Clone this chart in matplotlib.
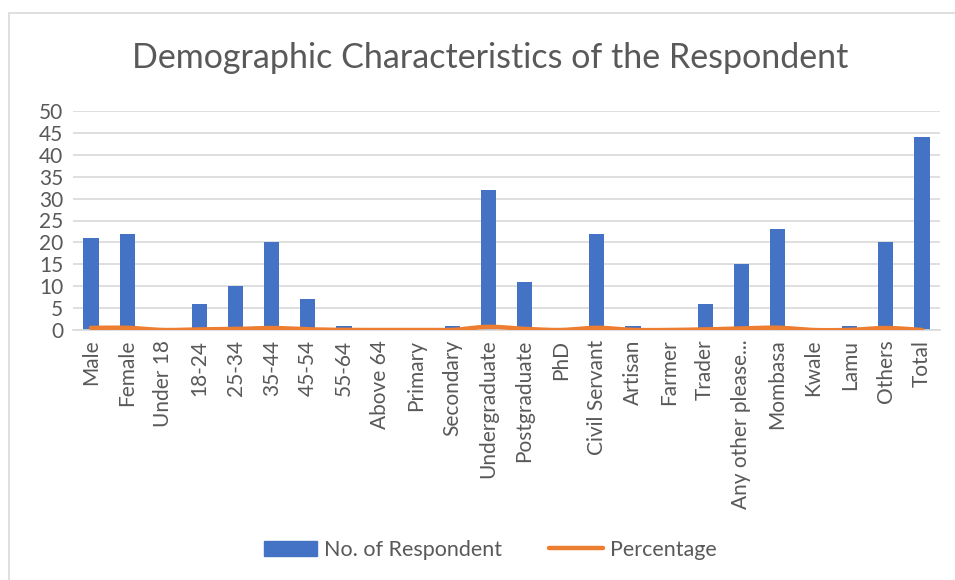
import numpy as np
import matplotlib
matplotlib.use("Agg")
import matplotlib.pyplot as plt
from matplotlib.patches import Rectangle
from matplotlib.lines import Line2D

plt.rcParams['font.family'] = ['Lato', 'DejaVu Sans']

categories = ["Male", "Female", "Under 18", "18-24", "25-34", "35-44", "45-54",
              "55-64", "Above 64", "Primary", "Secondary", "Undergraduate",
              "Postgraduate", "PhD", "Civil Servant", "Artisan", "Farmer",
              "Trader", "Any other please...", "Mombasa", "Kwale", "Lamu",
              "Others", "Total"]
respondents = [21, 22, 0, 6, 10, 20, 7, 1, 0, 0, 1, 32, 11, 0, 22, 1, 0, 6,
               15, 23, 0, 1, 20, 44]
percentage = [0.477, 0.5, 0.0, 0.136, 0.227, 0.455, 0.159, 0.023, 0.0, 0.0,
              0.023, 0.727, 0.25, 0.0, 0.5, 0.023, 0.0, 0.136, 0.341, 0.523,
              0.0, 0.023, 0.455, 0.0]
y_ticks = [0, 5, 10, 15, 20, 25, 30, 35, 40, 45, 50]

BAR = "#4472C4"
LINE = "#ED7D31"
TXT = "#595959"
GRID = "#D9D9D9"


def smooth_curve(xs, ys, n=30):
    """Cardinal-spline smoothing through every point (Excel-style smoothed line)."""
    xs = np.asarray(xs, float)
    ys = np.asarray(ys, float)
    px = np.concatenate([[xs[0]], xs, [xs[-1]]])
    py = np.concatenate([[ys[0]], ys, [ys[-1]]])
    out_x, out_y = [], []
    t = np.linspace(0, 1, n)
    for i in range(1, len(px) - 2):
        p0 = np.array([px[i], py[i]])
        p3 = np.array([px[i + 1], py[i + 1]])
        c1 = p0 + (np.array([px[i + 1], py[i + 1]]) - np.array([px[i - 1], py[i - 1]])) / 6
        c2 = p3 - (np.array([px[i + 2], py[i + 2]]) - np.array([px[i], py[i]])) / 6
        b = ((1 - t) ** 3)[:, None] * p0 + (3 * (1 - t) ** 2 * t)[:, None] * c1 \
            + (3 * (1 - t) * t ** 2)[:, None] * c2 + (t ** 3)[:, None] * p3
        out_x.extend(b[:, 0])
        out_y.extend(b[:, 1])
    return np.array(out_x), np.array(out_y)


fig = plt.figure(figsize=(9.55, 5.8), dpi=100)
fig.patch.set_facecolor("white")

# outer chart frame
fig.add_artist(Rectangle((9 / 955, -0.05), 1.1, (580 - 13) / 580 + 0.05,
                         transform=fig.transFigure, fill=False,
                         edgecolor="#D9D9D9", linewidth=1.2))

ax = fig.add_axes([73 / 955, 1 - 330 / 580, (940 - 73) / 955, (330 - 111) / 580])
x = np.arange(len(categories))
ax.bar(x, respondents, width=0.42, color=BAR, zorder=2)
sx, sy = smooth_curve(x, percentage)
ax.plot(sx, sy, color=LINE, linewidth=3.2, solid_capstyle="round", zorder=3)

ax.set_xlim(-0.5, len(categories) - 0.5)
ax.set_ylim(0, 50)
ax.set_yticks(y_ticks)
ax.set_yticklabels([str(v) for v in y_ticks])
ax.yaxis.grid(True, color=GRID, linewidth=1.2, zorder=0)
ax.set_axisbelow(True)
for s in ["top", "right", "left"]:
    ax.spines[s].set_visible(False)
ax.spines["bottom"].set_color(GRID)
ax.spines["bottom"].set_linewidth(1.2)
ax.tick_params(axis="both", length=0, labelsize=15, labelcolor=TXT)
ax.tick_params(axis="y", pad=7)
ax.tick_params(axis="x", pad=7)
ax.set_xticks(x)
ax.set_xticklabels(categories, rotation=90, va="top", ha="center")

fig.text(490 / 955, 1 - 58 / 580, "Demographic Characteristics of the Respondent",
         ha="center", va="center", fontsize=24.5, color=TXT)

handles = [Rectangle((0, 0), 1, 1, color=BAR),
           Line2D([0], [0], color=LINE, linewidth=3.2, solid_capstyle="round")]
fig.legend(handles, ["No. of Respondent", "Percentage"], loc="center",
           bbox_to_anchor=(490 / 955, 1 - 550 / 580), ncol=2, frameon=False,
           fontsize=15.5, labelcolor=TXT, handlelength=2.5, handletextpad=0.3,
           columnspacing=2.2)

fig.savefig("out.png", dpi=100, facecolor="white")
